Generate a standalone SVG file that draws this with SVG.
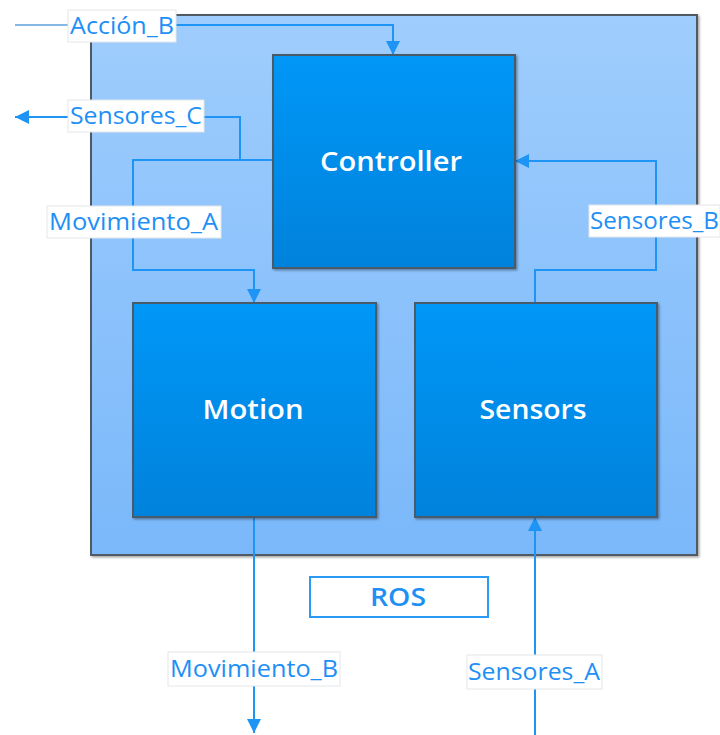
<svg xmlns="http://www.w3.org/2000/svg" width="720" height="735" viewBox="0 0 720 735">
  <defs>
    <linearGradient id="gContainer" x1="0" y1="0" x2="0" y2="1">
      <stop offset="0" stop-color="#9fcdfd"/>
      <stop offset="1" stop-color="#7ab8fa"/>
    </linearGradient>
    <linearGradient id="gNode" x1="0" y1="0" x2="0" y2="1">
      <stop offset="0" stop-color="#0097f7"/>
      <stop offset="1" stop-color="#0082dc"/>
    </linearGradient>
    <filter id="shadow" x="-5%" y="-5%" width="110%" height="110%">
      <feDropShadow dx="1.5" dy="1.5" stdDeviation="1.2" flood-color="#000" flood-opacity="0.35"/>
    </filter>
    <marker id="arrow" viewBox="0 0 10 10" refX="10" refY="5" markerWidth="14" markerHeight="14" markerUnits="userSpaceOnUse" orient="auto">
      <path d="M0,0 L10,5 L0,10 Z" fill="#1e94f5"/>
    </marker>
  </defs>
  <style>
    .node rect { fill: url(#gNode); stroke: #4a5a68; stroke-width: 2; }
    .node text { font-family: "Open Sans", "Noto Sans", sans-serif; font-weight: 600; font-size: 27px; fill: #ffffff; text-anchor: middle; }
    .wire { fill: none; stroke: #1e94f5; stroke-width: 2; }
    .lbl rect { fill: #ffffff; stroke: #e2e6ea; stroke-width: 1; }
    .lbl text { font-family: "Open Sans", "Noto Sans", sans-serif; font-size: 23px; fill: #1e8ff5; }
  </style>

  <!-- ROS container -->
  <g id="ros">
    <rect x="91" y="15" width="606" height="540" fill="url(#gContainer)" stroke="#505a64" stroke-width="2" filter="url(#shadow)"/>
    <rect x="310" y="577" width="178" height="40" fill="#ffffff" stroke="#2a9af5" stroke-width="2"/>
    <text x="398" y="606" font-family="'Open Sans', 'Noto Sans', sans-serif" font-weight="600" font-size="25" fill="#1e8ff5" text-anchor="middle" textLength="56" lengthAdjust="spacingAndGlyphs">ROS</text>
  </g>

  <!-- Connectors -->
  <g id="connectors">
    <path d="M15,25 H68" fill="none" stroke="#86b8e6" stroke-width="2"/>
    <path class="wire" d="M176,25 H393 V55" marker-end="url(#arrow)"/>
    <path class="wire" d="M273,160 H240 V117 H15" marker-end="url(#arrow)"/>
    <path class="wire" d="M273,160 H133 V270 H254 V303" marker-end="url(#arrow)"/>
    <path class="wire" d="M535,303 V270 H656 V161 H515" marker-end="url(#arrow)"/>
    <path class="wire" d="M254,517 V733" marker-end="url(#arrow)"/>
    <path class="wire" d="M535,735 V517" marker-end="url(#arrow)"/>

    <g class="lbl">
      <rect x="68" y="10" width="108" height="32"/>
      <text x="70" y="34" textLength="104" lengthAdjust="spacingAndGlyphs">Acción_B</text>
      <rect x="68" y="100" width="136" height="32"/>
      <text x="70" y="124" textLength="132" lengthAdjust="spacingAndGlyphs">Sensores_C</text>
      <rect x="47" y="206" width="174" height="32"/>
      <text x="49" y="230" textLength="169" lengthAdjust="spacingAndGlyphs">Movimiento_A</text>
      <rect x="589" y="205" width="131" height="32"/>
      <text x="590" y="229" textLength="129" lengthAdjust="spacingAndGlyphs">Sensores_B</text>
      <rect x="168" y="652" width="172" height="34"/>
      <text x="170" y="677" textLength="168" lengthAdjust="spacingAndGlyphs">Movimiento_B</text>
      <rect x="467" y="655" width="135" height="34"/>
      <text x="468" y="680" textLength="132" lengthAdjust="spacingAndGlyphs">Sensores_A</text>
    </g>
  </g>

  <!-- Nodes -->
  <g id="controller" class="node">
    <rect x="273" y="55" width="242" height="213" filter="url(#shadow)"/>
    <text x="391" y="171" textLength="142" lengthAdjust="spacingAndGlyphs">Controller</text>
  </g>
  <g id="motion" class="node">
    <rect x="133" y="303" width="243" height="214" filter="url(#shadow)"/>
    <text x="253" y="419" textLength="101" lengthAdjust="spacingAndGlyphs">Motion</text>
  </g>
  <g id="sensors" class="node">
    <rect x="415" y="303" width="242" height="214" filter="url(#shadow)"/>
    <text x="533" y="419" textLength="107" lengthAdjust="spacingAndGlyphs">Sensors</text>
  </g>
</svg>
